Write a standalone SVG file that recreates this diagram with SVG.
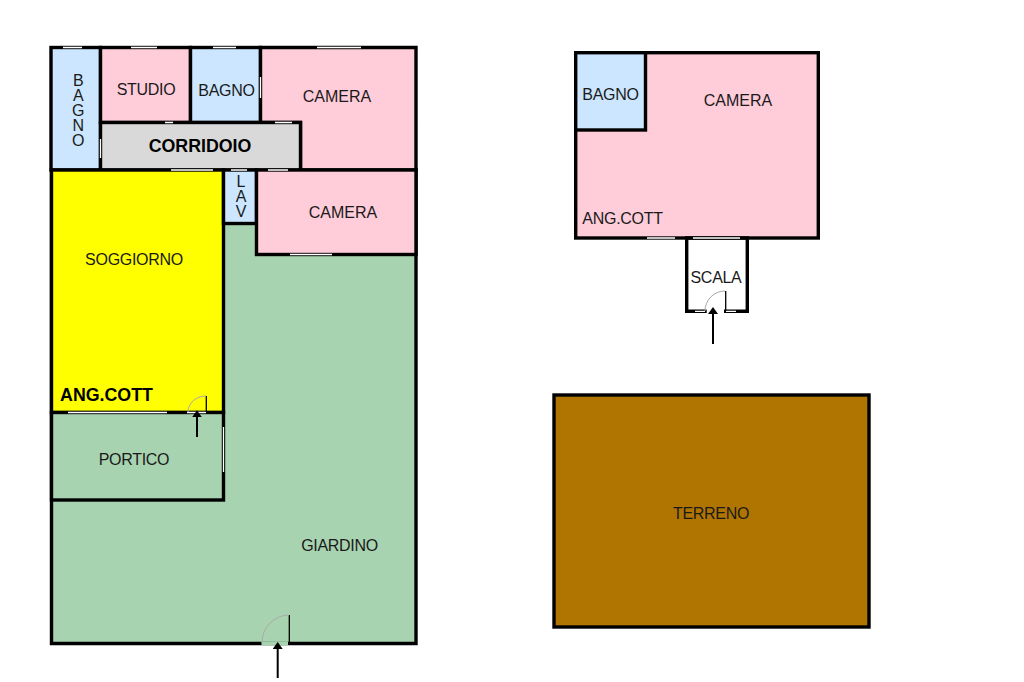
<svg xmlns="http://www.w3.org/2000/svg" width="1024" height="682" viewBox="0 0 1024 682">
<style>
.w{stroke:#000;stroke-width:3.4;stroke-linecap:square}
.pink{fill:#ffccd9}
.blue{fill:#cce6ff}
.green{fill:#a8d3b0}
.win{fill:none;stroke:#fff;stroke-width:1.3}
.door{fill:none;stroke:#000;stroke-width:1.3}
.arc{fill:none;stroke:#a9a9a9;stroke-width:1}
.arr{fill:none;stroke:#000;stroke-width:2;marker-end:url(#ah)}
text{font-family:"Liberation Sans",Arial,sans-serif;font-size:16px;fill:#1a1a1a;text-anchor:middle}
.n{letter-spacing:-.3px}
.b{font-size:17.800px;font-weight:bold;fill:#000}
</style>
<defs>
<marker id="ah" viewBox="0 0 7 10" refX="5" refY="5" markerWidth="3.500" markerHeight="5" orient="auto" preserveAspectRatio="none"><path d="M0 0L7 5L0 10Z" fill="#000"/></marker>
</defs>
<rect width="1024" height="682" fill="#fff"/>
<g id="giardino"><path class="w green" d="M51.500 170V643.500H416V170Z"/><text class="n" x="339.500" y="551">GIARDINO</text></g>
<g id="bagno1"><rect class="w blue" x="51" y="47.500" width="49.500" height="122.500"/><text x="78.300" y="86">B</text><text x="78.300" y="101">A</text><text x="78.300" y="116">G</text><text x="78.300" y="131">N</text><text x="78.300" y="146">O</text></g>
<g id="studio"><rect class="w pink" x="100.500" y="47.500" width="90" height="75"/><text class="n" x="146" y="94.500">STUDIO</text></g>
<g id="bagno2"><rect class="w blue" x="190.500" y="47.500" width="70" height="75"/><text class="n" x="226.500" y="96">BAGNO</text></g>
<g id="camera1"><path class="w pink" d="M260.500 47.500H416V170H300.500V122.500H260.500Z"/><text x="337" y="101.500">CAMERA</text></g>
<g id="corridoio"><rect class="w" fill="#d9d9d9" x="100.500" y="122.500" width="200" height="47.500"/><text class="b" x="200" y="151.500">CORRIDOIO</text></g>
<g id="soggiorno"><rect class="w" fill="#ffff00" x="51.500" y="170" width="172" height="242.500"/><text class="n" x="134" y="265">SOGGIORNO</text><text class="b" x="106.500" y="400.500">ANG.COTT</text></g>
<g id="lav"><rect class="w blue" x="223.500" y="170" width="33" height="53.500"/><text x="241" y="187">L</text><text x="241" y="202">A</text><text x="241" y="217">V</text></g>
<g id="camera2"><rect class="w pink" x="256.500" y="170" width="159.500" height="84.500"/><text x="343" y="217.500">CAMERA</text></g>
<g id="portico"><rect class="w green" x="51.500" y="412.500" width="172" height="87.500"/><text class="n" x="134" y="465">PORTICO</text></g>
<g id="camera3"><rect class="w pink" x="575.700" y="52.700" width="242.600" height="185.300"/><text x="738" y="105.500">CAMERA</text><text class="n" x="622.500" y="223.500">ANG.COTT</text></g>
<g id="bagno3"><rect class="w blue" x="575.700" y="52.700" width="69.800" height="77.300"/><text class="n" x="610.500" y="100">BAGNO</text></g>
<g id="scala"><path class="w" fill="none" d="M705 311.300H686.700V238H747.300V311.300H725.700"/><text class="n" x="716" y="283">SCALA</text></g>
<g id="terreno"><rect class="w" fill="#b07500" x="554" y="395" width="315" height="232"/><text class="n" x="711" y="519">TERRENO</text></g>
<g id="connectors">
<path class="win" d="M63 47.500H82M131 47.500H157M213 47.500H236M317 47.500H361M165 122.500H173M275 122.500H292M100.500 139V158M260.500 77V98M171 170H213M231 170H247M268 170H288M290 254.500H332M68 412.500H167M187 412.500H206M223.500 427V472M647 238H675M693 238H740M695 311.300H705M726 311.300H736"/>
<path d="M261.500 643.500H288" stroke="#a8d3b0" stroke-width="4" fill="none"/>
<path class="door" d="M289.300 643V615M206.300 412V396M725.700 311V291"/>
<path class="arc" d="M289 615A27.500 27.500 0 0 0 262 643M206 396A18 16 0 0 0 188 412M725 291A20 20 0 0 0 705 311"/>
<path class="arr" d="M277.700 678V644"/>
<path class="arr" d="M197 437V412.300"/>
<path class="arr" d="M713 344V309"/>
</g>
</svg>
